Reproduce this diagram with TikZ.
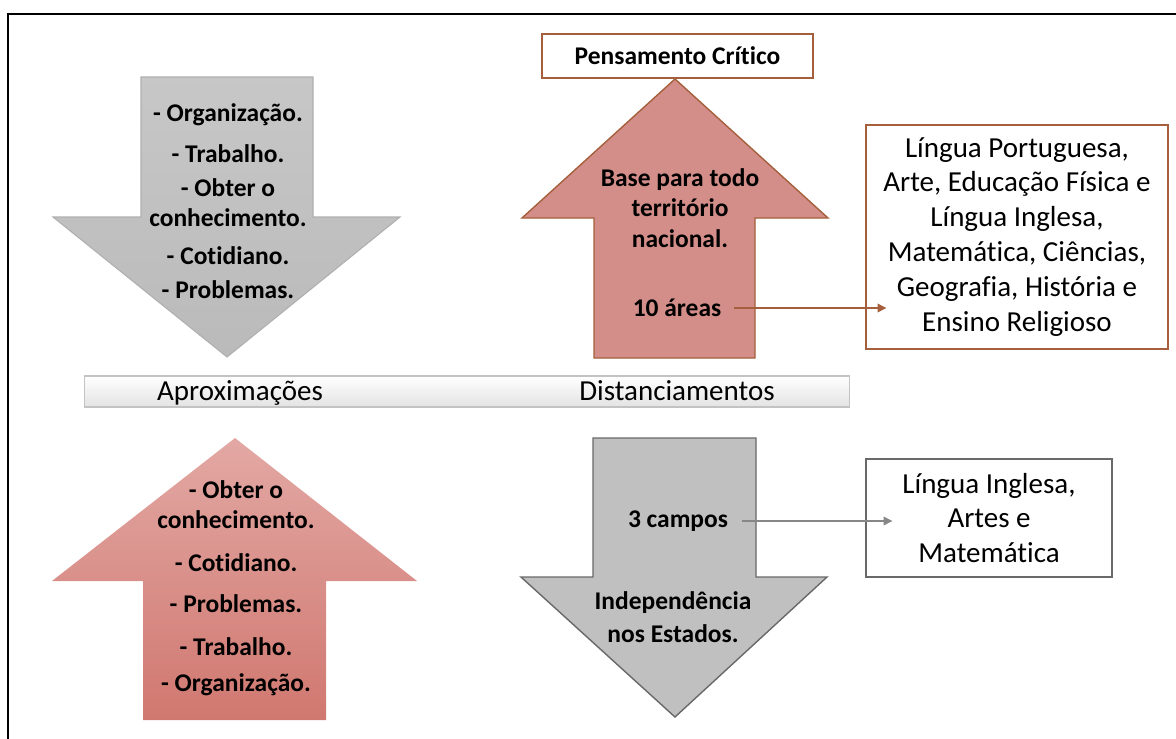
\documentclass[tikz,border=0pt]{standalone}
\usepackage{fontspec}
\setmainfont{Carlito}[Ligatures=NoCommon]
\usetikzlibrary{arrows.meta, positioning}
\definecolor{rosefill}{RGB}{211,142,137}
\definecolor{rosetop}{RGB}{227,168,164}
\definecolor{rosebottom}{RGB}{208,120,112}
\definecolor{rustline}{RGB}{165,95,60}
\definecolor{greyfill}{RGB}{192,192,192}
\definecolor{greyline}{RGB}{105,105,105}
\definecolor{softline}{RGB}{175,175,175}
\definecolor{barline}{RGB}{195,195,195}

\begin{document}
\begin{tikzpicture}[
    x=0.02cm, y=-0.02cm,
    boldtext/.style={align=center, font=\fontsize{14.5}{17.3}\selectfont\bfseries, inner sep=2pt},
    plaintext/.style={align=center, font=\fontsize{16.5}{19.9}\selectfont, inner sep=2pt},
    infobox/.style={rectangle, draw=#1, fill=white, line width=0.8pt, inner sep=0pt, align=center, font=\fontsize{16.5}{19.9}\selectfont},
    bar/.style={rectangle, draw=barline, line width=0.6pt, top color=white, bottom color=black!11, inner sep=0pt},
    link/.style={-{Triangle[length=5pt, width=5pt]}, line width=0.6pt}
]
    \useasboundingbox (0,0) rectangle (1176,738);
    \draw[line width=1.3pt] (8,14) rectangle (1200,760);

    \shade[top color=black!22, bottom color=black!27, draw=softline, line width=0.6pt]
        (141,77) -- (313,77) -- (313,217) -- (400,217) -- (227,357) -- (53,217) -- (141,217) -- cycle;
    \fill[rosefill, draw=rustline, line width=0.8pt]
        (675,79) -- (828,218) -- (755,218) -- (755,358) -- (594,358) -- (594,218) -- (522,218) -- cycle;
    \shade[top color=rosetop, bottom color=rosebottom]
        (235,438) -- (417,581) -- (326,581) -- (326,720) -- (143,720) -- (143,581) -- (52,581) -- cycle;
    \fill[greyfill, draw=greyline, line width=0.8pt]
        (593,438) -- (756,438) -- (756,577) -- (827,577) -- (675,717) -- (521,577) -- (593,577) -- cycle;

    \node[bar, minimum width=15.32cm, minimum height=0.62cm] (faixa) at (467,391.5) {};
    \node[plaintext, anchor=base] (aprox) at (240,400) {Aproximações};
    \node[plaintext, anchor=base] (dist) at (677,400) {Distanciamentos};

    \node[boldtext] (listaA) at (228,201) {- Organização.\\[0.22cm] - Trabalho.\\[0.06cm] - Obter o\\ conhecimento.\\[0.16cm] - Cotidiano.\\[0.06cm] - Problemas.};
    \node[boldtext] (listaB) at (236,588) {- Obter o\\ conhecimento.\\[0.24cm] - Cotidiano.\\[0.22cm] - Problemas.\\[0.26cm] - Trabalho.\\[0.1cm] - Organização.};

    \node[infobox=rustline, minimum width=5.42cm, minimum height=0.88cm, font=\fontsize{14.5}{17.3}\selectfont\bfseries] (critico) at (677.5,56) {Pensamento Crítico};
    \node[boldtext] (base) at (680,208) {Base para todo\\ território\\ nacional.};
    \node[boldtext] (areas) at (677,308) {10 áreas};
    \node[infobox=rustline, minimum width=6.04cm, minimum height=4.48cm] (lista) at (1017,237)
        {Língua Portuguesa,\\ Arte, Educação Física e\\ Língua Inglesa,\\ Matemática, Ciências,\\ Geografia, História e\\ Ensino Religioso};

    \node[boldtext] (campos) at (678,521) {3 campos};
    \node[boldtext] (estados) at (673,617) {Independência\\[0.06cm] nos Estados.};
    \node[infobox=greyline, minimum width=4.92cm, minimum height=2.36cm] (ingl) at (989,518)
        {Língua Inglesa,\\ Artes e\\ Matemática};

    \draw[link, rustline, shorten <=0.18cm, shorten >=-0.42cm] (areas.east) -- (areas.east -| lista.west);
    \draw[link, greyline!80, shorten <=0.2cm, shorten >=-0.54cm] (campos.east) -- (campos.east -| ingl.west);
\end{tikzpicture}
\end{document}
